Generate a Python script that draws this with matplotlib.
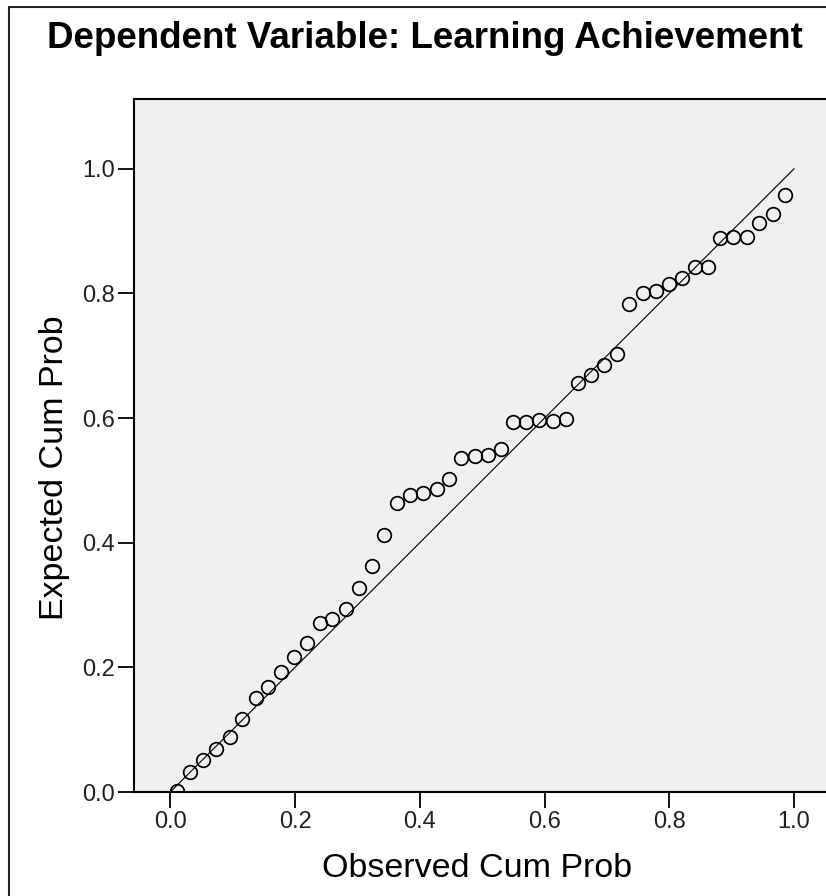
import matplotlib
matplotlib.use("Agg")
import matplotlib.pyplot as plt
from matplotlib.patches import Rectangle

plt.rcParams['font.family'] = ['Liberation Sans', 'DejaVu Sans']

# Normal P-P plot of regression standardized residual
observed = [0.010, 0.032, 0.052, 0.073, 0.096, 0.115, 0.138, 0.156, 0.177, 0.198,
            0.219, 0.240, 0.260, 0.282, 0.302, 0.323, 0.343, 0.364, 0.385, 0.405,
            0.427, 0.447, 0.466, 0.488, 0.509, 0.530, 0.549, 0.571, 0.591, 0.613,
            0.634, 0.653, 0.674, 0.696, 0.717, 0.736, 0.758, 0.779, 0.799, 0.820,
            0.841, 0.862, 0.882, 0.902, 0.924, 0.944, 0.966, 0.986]
expected = [0.002, 0.032, 0.051, 0.069, 0.089, 0.117, 0.151, 0.168, 0.192, 0.216,
            0.239, 0.271, 0.278, 0.294, 0.327, 0.362, 0.413, 0.464, 0.476, 0.479,
            0.487, 0.502, 0.536, 0.539, 0.540, 0.550, 0.593, 0.594, 0.597, 0.595,
            0.599, 0.657, 0.669, 0.685, 0.703, 0.783, 0.801, 0.804, 0.815, 0.824,
            0.842, 0.842, 0.889, 0.890, 0.890, 0.913, 0.928, 0.958]
ref_line = [0.0, 1.0]
ticks = [0.0, 0.2, 0.4, 0.6, 0.8, 1.0]
tick_labels = ["0.0", "0.2", "0.4", "0.6", "0.8", "1.0"]

W, H = 826, 896
fig = plt.figure(figsize=(W / 100, H / 100), dpi=100)
fig.patch.set_facecolor("white")

# outer chart frame (cropped at right and bottom)
fig.patches.append(Rectangle((9 / W, -0.05), 1.2, (H - 7) / H + 0.05,
                             transform=fig.transFigure, fill=False,
                             edgecolor="#222222", linewidth=1.5))

ax = fig.add_axes([134.3 / W, 104 / H, 695.7 / W, 693 / H])
ax.set_facecolor("#f0f0f0")

ax.plot(ref_line, ref_line, color="black", linewidth=0.8)
ax.plot(observed, expected, linestyle="none", marker="o", markersize=9.8,
        markerfacecolor="none", markeredgecolor="black", markeredgewidth=1.25)

ax.set_xlim(-0.0577, 1.0577)
ax.set_ylim(0.0, 1.112)
ax.set_xticks(ticks)
ax.set_xticklabels(tick_labels)
ax.set_yticks(ticks)
ax.set_yticklabels(tick_labels)
ax.tick_params(direction="out", length=11.5, width=1.3, labelsize=17,
               pad=2.5, colors="black", labelcolor="#222222")

for side in ["left", "bottom", "top", "right"]:
    ax.spines[side].set_linewidth(1.5)
    ax.spines[side].set_color("black")

ax.set_xlabel("Observed Cum Prob", fontsize=24.5, va="baseline")
ax.xaxis.set_label_coords(0.492, -0.1227)
ax.set_ylabel("Expected Cum Prob", fontsize=24.5, va="baseline")
ax.yaxis.set_label_coords(-0.102, 0.4675)

fig.text(425 / W, 1 - 48 / H, "Dependent Variable: Learning Achievement",
         fontsize=26.5, fontweight="bold", ha="center", va="baseline")

fig.savefig("out.png", dpi=100)
